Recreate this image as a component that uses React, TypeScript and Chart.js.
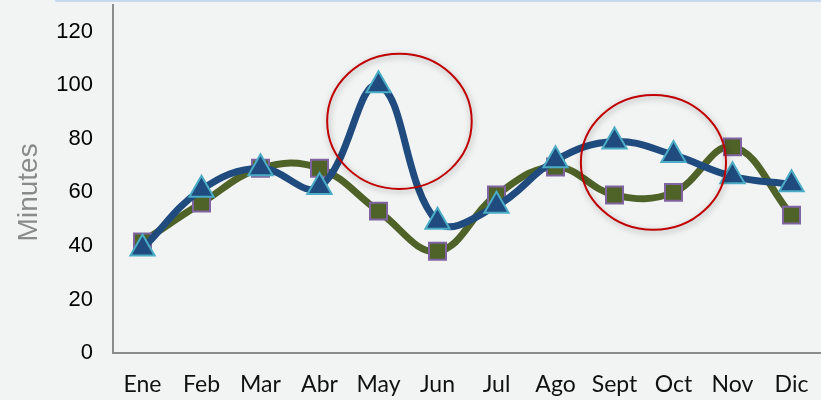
import React, { useEffect, useRef } from 'react';
import { Chart, registerables } from 'chart.js';

Chart.register(...registerables);

// Categories
const months = ['Ene', 'Feb', 'Mar', 'Abr', 'May', 'Jun', 'Jul', 'Ago', 'Sept', 'Oct', 'Nov', 'Dic'];

// Series values (minutes)
const blueSeries = [39, 61, 69, 62, 100, 49, 55, 72, 79, 74, 66, 63];
const greenSeries = [41.5, 56, 69, 69, 53, 38, 59, 69.5, 59, 60, 77, 51.5];

// Y tick labels
const yTicks = [0, 20, 40, 60, 80, 100, 120];
const yMax = 130;

// Highlight ellipses, in data terms (category index range, value range)
const highlightXFrom = [3.13, 7.43];
const highlightXTo = [5.58, 9.89];
const highlightYFrom = [61.3, 46];
const highlightYTo = [111.8, 96.4];

const yTitle = 'Minutes';
const yTitleLevel = 60;

export default function App() {
  const ref = useRef<HTMLCanvasElement>(null);

  useEffect(() => {
    document.body.style.margin = '0';
    const canvas = ref.current;
    if (!canvas) return;

    const ellipsePlugin = {
      id: 'highlightEllipses',
      afterDatasetsDraw(chart: any) {
        const { ctx } = chart;
        const xs = chart.scales.x;
        const ys = chart.scales.y;
        ctx.save();
        for (let i = 0; i < highlightXFrom.length; i++) {
          const x1 = xs.getPixelForValue(highlightXFrom[i]);
          const x2 = xs.getPixelForValue(highlightXTo[i]);
          const y1 = ys.getPixelForValue(highlightYFrom[i]);
          const y2 = ys.getPixelForValue(highlightYTo[i]);
          const cx = (x1 + x2) / 2;
          const cy = (y1 + y2) / 2;
          ctx.beginPath();
          ctx.ellipse(cx, cy, Math.abs(x2 - x1) / 2, Math.abs(y2 - y1) / 2, 0, 0, Math.PI * 2);
          ctx.shadowColor = 'rgba(0,0,0,0.35)';
          ctx.shadowBlur = 6;
          ctx.shadowOffsetX = 1;
          ctx.shadowOffsetY = 2;
          ctx.strokeStyle = '#c00000';
          ctx.lineWidth = 2;
          ctx.stroke();
        }
        ctx.restore();
      },
      afterDraw(chart: any) {
        const { ctx, chartArea } = chart;
        const ys = chart.scales.y;
        ctx.save();
        ctx.translate(chartArea.left - 84, ys.getPixelForValue(yTitleLevel));
        ctx.rotate(-Math.PI / 2);
        ctx.font = '28px "Liberation Sans", Arial, sans-serif';
        ctx.fillStyle = '#8a8a8a';
        ctx.textAlign = 'center';
        ctx.textBaseline = 'middle';
        ctx.fillText(yTitle, 0, 0);
        ctx.restore();
      },
    };

    const chart = new Chart(canvas, {
      type: 'line',
      data: {
        labels: months,
        datasets: [
          {
            label: 'A',
            data: blueSeries,
            borderColor: '#1f4b7e',
            backgroundColor: '#1f4b7e',
            borderWidth: 7,
            tension: 0.4,
            pointStyle: 'triangle',
            pointRadius: 14,
            pointHoverRadius: 14,
            pointBackgroundColor: '#1f4b7e',
            pointBorderColor: '#4bacc6',
            pointBorderWidth: 2,
            fill: false,
            clip: false,
          },
          {
            label: 'B',
            data: greenSeries,
            borderColor: '#4f6228',
            backgroundColor: '#4f6228',
            borderWidth: 7,
            tension: 0.4,
            pointStyle: 'rect',
            pointRadius: 12,
            pointHoverRadius: 12,
            pointBackgroundColor: '#4f6228',
            pointBorderColor: '#8064a2',
            pointBorderWidth: 2,
            fill: false,
            clip: false,
          },
        ],
      },
      options: {
        responsive: false,
        animation: false,
        devicePixelRatio: 1,
        layout: { autoPadding: false, padding: { top: 5, right: 0, bottom: 0, left: 0 } },
        plugins: {
          legend: { display: false },
          tooltip: { enabled: false },
        },
        scales: {
          x: {
            offset: true,
            grid: { display: false, drawTicks: false },
            border: { display: true, color: '#8c8c8c', width: 2 },
            ticks: {
              padding: 18,
              color: '#111',
              font: { family: 'Lato, "Open Sans", sans-serif', size: 23 },
              maxRotation: 0,
              autoSkip: false,
            },
            afterFit(scale: any) {
              scale.height = 47;
              scale.paddingLeft = 0;
              scale.paddingRight = 0;
            },
          },
          y: {
            min: 0,
            max: yMax,
            grid: { display: false, drawTicks: false },
            border: { display: true, color: '#8c8c8c', width: 2 },
            ticks: {
              padding: 20,
              color: '#000',
              font: { family: '"Liberation Sans", Arial, sans-serif', size: 22 },
            },
            afterBuildTicks(scale: any) {
              scale.ticks = yTicks.map((v) => ({ value: v }));
            },
            afterFit(scale: any) {
              scale.width = 113;
              scale.paddingTop = 0;
              scale.paddingBottom = 0;
            },
          },
        },
      },
      plugins: [ellipsePlugin],
    });

    return () => chart.destroy();
  }, []);

  return (
    <div style={{ position: 'relative', width: 821, height: 400, background: '#f2f4f4', overflow: 'hidden' }}>
      <div style={{ position: 'absolute', top: 0, left: 55, right: 0, height: 2, background: '#c6d9f0' }} />
      <canvas ref={ref} width={821} height={400} style={{ position: 'absolute', left: 0, top: 0 }} />
    </div>
  );
}
